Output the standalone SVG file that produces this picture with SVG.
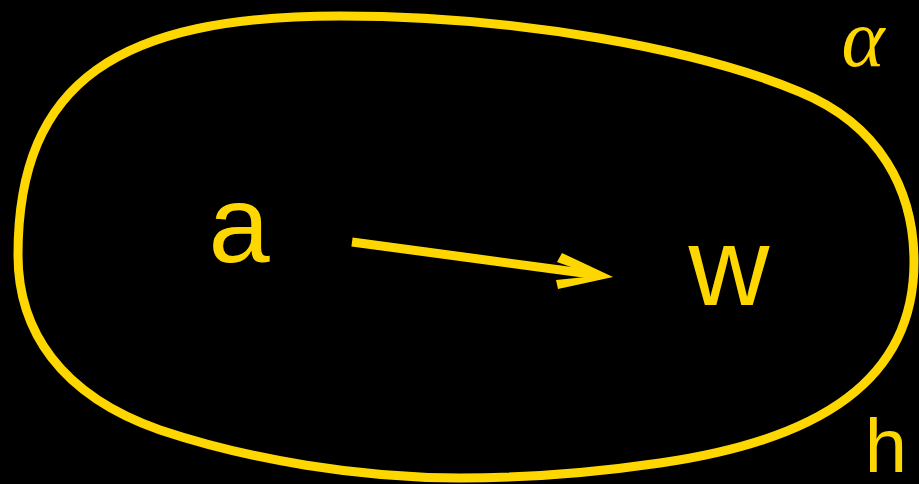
<svg xmlns="http://www.w3.org/2000/svg" width="919" height="484" viewBox="0 0 919 484">
  <style>
    .lbl { fill: #FFD700; font-family: "Liberation Sans", Arial, sans-serif; text-anchor: middle; }
    .greek { fill: #FFD700; font-family: "Liberation Serif", "DejaVu Serif", serif; font-style: italic; text-anchor: middle; }
    .gold { fill: none; stroke: #FFD700; stroke-width: 9; }
  </style>
  <rect x="0" y="0" width="919" height="484" fill="#000000"/>
  <g id="region">
    <path class="gold" d="M 18,255 C 18,80 120,16 340,16 C 520,16 700,50 800,92 C 880,125 914,190 914,262 C 914,380 820,440 660,463 C 564,477 500,478 460,478 C 360,478 250,460 160,430 C 60,395 18,330 18,255 Z"/>
    <text class="greek" x="863" y="66" font-size="82">α</text>
    <text class="lbl" x="886" y="472" font-size="76">h</text>
  </g>
  <g id="node-a">
    <text class="lbl" x="239" y="262" font-size="110">a</text>
  </g>
  <g id="node-w">
    <text class="lbl" x="729" y="305" font-size="112">w</text>
  </g>
  <g id="connectors">
    <line x1="352" y1="242" x2="598" y2="275" stroke="#FFD700" stroke-width="9"/>
    <polygon points="613,277 562,253 557,262 596,276 556,280 558,289" fill="#FFD700"/>
  </g>
</svg>
